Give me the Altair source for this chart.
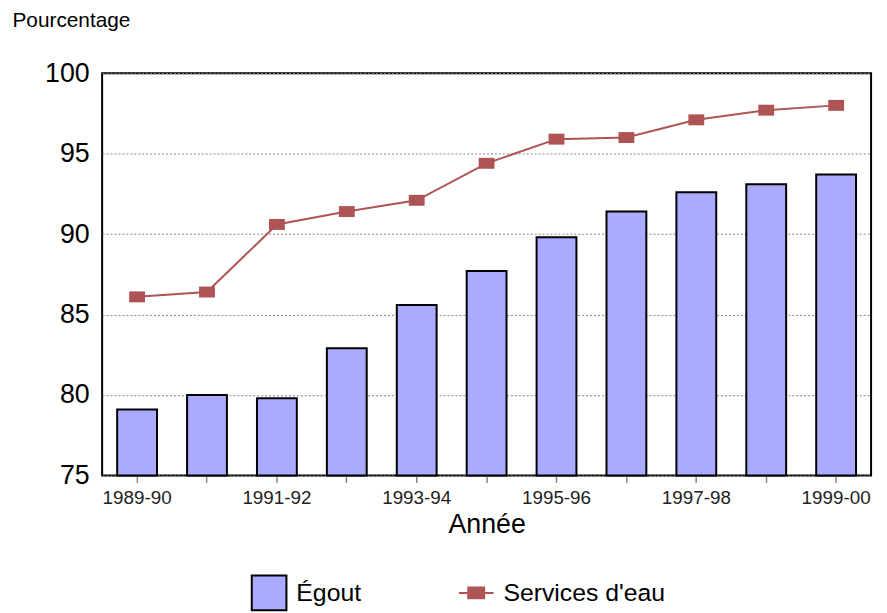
import altair as alt
import pandas as pd

years = ["1989-90", "1990-91", "1991-92", "1992-93", "1993-94", "1994-95",
         "1995-96", "1996-97", "1997-98", "1998-99", "1999-00"]
egout = [79.1, 80.0, 79.8, 82.9, 85.6, 87.7, 89.8, 91.4, 92.6, 93.1, 93.7]
eau = [86.1, 86.4, 90.6, 91.4, 92.1, 94.4, 95.9, 96.0, 97.1, 97.7, 98.0]
shown_labels = ["1989-90", "1991-92", "1993-94", "1995-96", "1997-98", "1999-00"]
y_ticks = [75, 80, 85, 90, 95, 100]

FONT = "Liberation Sans"
BAR_COLOR = "#aaaaff"
LINE_COLOR = "#ae5454"

df_bar = pd.DataFrame({"annee": years, "valeur": egout, "serie": ["Égout"] * len(years)})
df_line = pd.DataFrame({"annee": years, "valeur": eau, "serie": ["Services d'eau"] * len(years)})

label_expr = "indexof(" + str(shown_labels) + ", datum.label) >= 0 ? datum.label : ''"

x_enc = alt.X(
    "annee:N",
    sort=years,
    scale=alt.Scale(paddingInner=0.43, paddingOuter=0.215),
    axis=alt.Axis(
        title="Année", labelExpr=label_expr, labelAngle=0, labelFontSize=19,
        labelColor="#222222", labelFont=FONT, labelPadding=6,
        labelOverlap=False,
        ticks=True, tickSize=7, tickColor="#888888", tickWidth=1.5,
        domain=False, grid=False,
        titleFontSize=27, titleFontWeight="normal", titleFont=FONT,
        titleColor="#000000", titlePadding=5,
    ),
)

y_enc = alt.Y(
    "valeur:Q",
    scale=alt.Scale(domain=[75, 100], nice=False, zero=False),
    axis=alt.Axis(
        title="Pourcentage", values=y_ticks,
        labelFontSize=27, labelFont=FONT, labelColor="#000000", labelPadding=13,
        ticks=False, domain=False,
        grid=True, gridColor="#888888", gridDash=[2, 2], gridWidth=1,
        titleAngle=0, titleAlign="left", titleBaseline="alphabetic",
        titleX=-91, titleY=-47, titleFontSize=21, titleFontWeight="normal",
        titleFont=FONT, titleColor="#000000",
    ),
)

bars = alt.Chart(df_bar).mark_bar(stroke="black", strokeWidth=2).encode(
    x=x_enc,
    y=y_enc,
    y2=alt.datum(75),
    fill=alt.Fill(
        "serie:N",
        scale=alt.Scale(domain=["Égout"], range=[BAR_COLOR]),
        legend=alt.Legend(
            title=None, orient="none", legendX=150, legendY=506,
            symbolType="square", symbolSize=1225, symbolStrokeColor="black",
            symbolStrokeWidth=2, symbolFillColor=BAR_COLOR,
            labelFontSize=25, labelFont=FONT, labelColor="#000000",
            labelOffset=9, labelLimit=400, padding=0,
        ),
    ),
)

line = alt.Chart(df_line).mark_line(strokeWidth=2).encode(
    x=alt.X("annee:N", sort=years),
    y=alt.Y("valeur:Q"),
    stroke=alt.Stroke(
        "serie:N",
        scale=alt.Scale(domain=["Services d'eau"], range=[LINE_COLOR]),
        legend=alt.Legend(
            title=None, orient="none", legendX=359, legendY=506,
            symbolType="M-1,0H1M-0.46,-0.31H0.46V0.31H-0.46Z",
            symbolSize=1225, symbolStrokeColor=LINE_COLOR,
            symbolFillColor=LINE_COLOR, symbolStrokeWidth=2,
            labelFontSize=25, labelFont=FONT, labelColor="#000000",
            labelOffset=9, labelLimit=400, padding=0,
        ),
    ),
)

markers = alt.Chart(df_line).mark_point(
    shape="M-1,-0.69H1V0.69H-1Z", filled=True, size=256,
    color=LINE_COLOR, opacity=1,
).encode(
    x=alt.X("annee:N", sort=years),
    y=alt.Y("valeur:Q"),
)

chart = alt.layer(bars, line, markers).properties(
    width=776, height=406,
    autosize=alt.AutoSizeParams(type="none"),
    padding={"left": 95, "top": 63, "right": 8, "bottom": 136},
).configure(
    font=FONT, background="white"
).configure_view(
    stroke="black", strokeWidth=2
)

chart.save("out.html", embed_options={"renderer": "svg", "actions": False})
